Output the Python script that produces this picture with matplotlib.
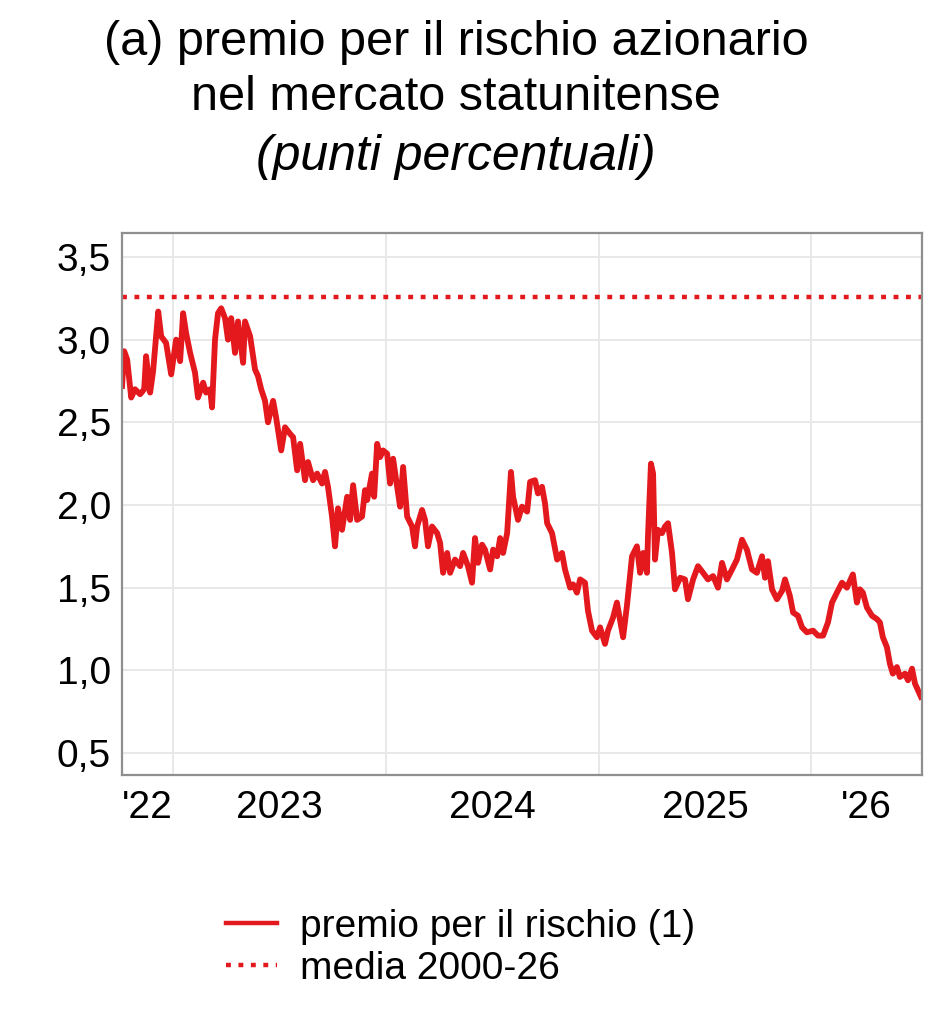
"""
Task:
    Redraw panel (a): equity risk premium in the US market, in percentage points.

Outputs:
    out.png

Notes:
(1) Dates are stored as decimal years, read off the published chart.
(2) Gridlines mark the start of each year; labels sit in the middle of each year.
"""

import matplotlib

matplotlib.use("Agg")
import matplotlib.pyplot as plt
from matplotlib.lines import Line2D


# <>#<>#<>#<>#<>#<>#<>#<>#<>#<>#<>#<>#<>#<>#<>#<>#<>#<>#<>#<>#<>#<>#<>#<>#<>#<>
# <> Step 0. Data
# <>#<>#<>#<>#<>#<>#<>#<>#<>#<>#<>#<>#<>#<>#<>#<>#<>#<>#<>#<>#<>#<>#<>#<>#<>#<>


YEAR_FRACTION = [
    2022.760, 2022.770, 2022.784, 2022.803, 2022.821, 2022.845, 2022.864, 2022.873,
    2022.892, 2022.906, 2022.930, 2022.944, 2022.967, 2022.991, 2023.014, 2023.033,
    2023.047, 2023.061, 2023.080, 2023.103, 2023.117, 2023.141, 2023.155, 2023.174,
    2023.183, 2023.197, 2023.211, 2023.226, 2023.244, 2023.258, 2023.273, 2023.291,
    2023.305, 2023.329, 2023.338, 2023.362, 2023.385, 2023.399, 2023.414, 2023.432,
    2023.446, 2023.470, 2023.484, 2023.508, 2023.526, 2023.550, 2023.564, 2023.583,
    2023.597, 2023.620, 2023.634, 2023.658, 2023.677, 2023.700, 2023.714, 2023.728,
    2023.747, 2023.761, 2023.775, 2023.794, 2023.818, 2023.832, 2023.846, 2023.865,
    2023.888, 2023.902, 2023.912, 2023.935, 2023.945, 2023.959, 2023.973, 2023.987,
    2024.006, 2024.020, 2024.034, 2024.053, 2024.067, 2024.081, 2024.100, 2024.123,
    2024.137, 2024.147, 2024.170, 2024.184, 2024.198, 2024.217, 2024.241, 2024.255,
    2024.269, 2024.288, 2024.302, 2024.325, 2024.349, 2024.363, 2024.386, 2024.405,
    2024.419, 2024.433, 2024.452, 2024.466, 2024.490, 2024.504, 2024.523, 2024.537,
    2024.551, 2024.570, 2024.588, 2024.598, 2024.621, 2024.640, 2024.664, 2024.678,
    2024.701, 2024.715, 2024.734, 2024.748, 2024.758, 2024.781, 2024.805, 2024.828,
    2024.842, 2024.866, 2024.880, 2024.898, 2024.913, 2024.936, 2024.950, 2024.969,
    2024.992, 2025.007, 2025.030, 2025.044, 2025.068, 2025.086, 2025.101, 2025.115,
    2025.133, 2025.157, 2025.180, 2025.195, 2025.209, 2025.227, 2025.232, 2025.246,
    2025.256, 2025.265, 2025.279, 2025.298, 2025.312, 2025.326, 2025.345, 2025.359,
    2025.383, 2025.406, 2025.420, 2025.444, 2025.467, 2025.491, 2025.514, 2025.538,
    2025.561, 2025.580, 2025.603, 2025.627, 2025.650, 2025.674, 2025.697, 2025.721,
    2025.744, 2025.768, 2025.782, 2025.796, 2025.815, 2025.838, 2025.862, 2025.876,
    2025.899, 2025.914, 2025.937, 2025.956, 2025.979, 2026.008, 2026.031, 2026.055,
    2026.078, 2026.097, 2026.120, 2026.144, 2026.167, 2026.181, 2026.195, 2026.214,
    2026.228, 2026.242, 2026.261, 2026.285, 2026.308, 2026.322, 2026.336, 2026.355,
    2026.369, 2026.383, 2026.402, 2026.416, 2026.440, 2026.454, 2026.473, 2026.487,
    2026.501, 2026.515,
]

RISK_PREMIUM = [
    2.72, 2.93, 2.88, 2.65, 2.70, 2.67, 2.70, 2.90,
    2.68, 2.81, 3.17, 3.02, 2.98, 2.79, 3.00, 2.87,
    3.16, 3.04, 2.92, 2.80, 2.65, 2.74, 2.68, 2.70,
    2.59, 3.00, 3.16, 3.19, 3.13, 3.00, 3.13, 2.92,
    3.11, 2.86, 3.11, 3.02, 2.82, 2.78, 2.70, 2.63,
    2.50, 2.63, 2.53, 2.33, 2.47, 2.43, 2.41, 2.21,
    2.37, 2.15, 2.26, 2.15, 2.19, 2.13, 2.20, 2.11,
    1.93, 1.75, 1.98, 1.85, 2.05, 1.91, 2.12, 1.91,
    1.93, 2.09, 2.03, 2.19, 2.05, 2.37, 2.29, 2.33,
    2.31, 2.13, 2.28, 2.11, 1.99, 2.23, 1.93, 1.87,
    1.75, 1.87, 1.97, 1.91, 1.75, 1.87, 1.83, 1.77,
    1.59, 1.71, 1.59, 1.67, 1.63, 1.71, 1.63, 1.53,
    1.80, 1.65, 1.76, 1.73, 1.61, 1.73, 1.69, 1.80,
    1.71, 1.83, 2.20, 2.05, 1.91, 1.99, 1.96, 2.14,
    2.15, 2.07, 2.11, 2.01, 1.89, 1.83, 1.67, 1.71,
    1.61, 1.50, 1.52, 1.47, 1.55, 1.53, 1.36, 1.24,
    1.20, 1.26, 1.16, 1.24, 1.32, 1.41, 1.30, 1.20,
    1.39, 1.69, 1.75, 1.59, 1.71, 1.59, 1.81, 2.25,
    2.19, 1.67, 1.85, 1.83, 1.87, 1.89, 1.71, 1.49,
    1.56, 1.55, 1.43, 1.55, 1.63, 1.59, 1.55, 1.57,
    1.50, 1.65, 1.55, 1.61, 1.67, 1.79, 1.73, 1.61,
    1.59, 1.69, 1.56, 1.66, 1.49, 1.43, 1.48, 1.55,
    1.45, 1.35, 1.33, 1.26, 1.23, 1.24, 1.21, 1.21,
    1.29, 1.41, 1.47, 1.53, 1.50, 1.54, 1.58, 1.41,
    1.49, 1.47, 1.38, 1.33, 1.31, 1.29, 1.20, 1.14,
    1.04, 0.98, 1.02, 0.96, 0.98, 0.94, 1.01, 0.92,
    0.88, 0.84,
]

MEAN_2000_26 = 3.26

YEAR_STARTS = [2023, 2024, 2025, 2026]
X_LABEL_POSITIONS = [2022.88, 2023.5, 2024.5, 2025.5, 2026.26]
X_TICK_LABELS = ["'22", "2023", "2024", "2025", "'26"]
Y_TICKS = [0.5, 1.0, 1.5, 2.0, 2.5, 3.0, 3.5]
Y_TICK_LABELS = ["0,5", "1,0", "1,5", "2,0", "2,5", "3,0", "3,5"]

TITLE_LINES = ["(a) premio per il rischio azionario", "nel mercato statunitense"]
SUBTITLE = "(punti percentuali)"
LEGEND_LABELS = ["premio per il rischio (1)", "media 2000-26"]

RED = "#e3191e"
DOTTED = (0, (1.1, 1.7))
FONT_SIZE = 28


# <>#<>#<>#<>#<>#<>#<>#<>#<>#<>#<>#<>#<>#<>#<>#<>#<>#<>#<>#<>#<>#<>#<>#<>#<>#<>
# <> Step 1. Draw
# <>#<>#<>#<>#<>#<>#<>#<>#<>#<>#<>#<>#<>#<>#<>#<>#<>#<>#<>#<>#<>#<>#<>#<>#<>#<>


plt.rcParams["font.family"] = ["Liberation Sans", "DejaVu Sans"]

figure = plt.figure(figsize=(9.52, 10.18), dpi=100)
axis = figure.add_axes([0.1282, 0.2387, 0.8403, 0.5324])

axis.plot(YEAR_FRACTION, RISK_PREMIUM, color=RED, lw=4.2, solid_joinstyle="round")
axis.axhline(MEAN_2000_26, color=RED, lw=3.2, linestyle=DOTTED, dash_capstyle="butt")

axis.set_xlim(2022.760, 2026.520)
axis.set_ylim(0.367, 3.645)

axis.set_yticks(Y_TICKS)
axis.set_yticklabels(Y_TICK_LABELS, fontsize=FONT_SIZE)
axis.set_xticks(YEAR_STARTS)
axis.set_xticklabels([])
axis.set_xticks(X_LABEL_POSITIONS, minor=True)
axis.set_xticklabels(X_TICK_LABELS, minor=True, fontsize=FONT_SIZE)
axis.tick_params(which="both", length=0)
axis.tick_params(axis="y", pad=8)
axis.tick_params(axis="x", which="minor", pad=11)

axis.grid(True, which="major", color="#e8e8e8", lw=1.4)
axis.set_axisbelow(True)
for spine in axis.spines.values():
    spine.set_color("#8f8f8f")
    spine.set_linewidth(1.6)

figure.text(0.479, 0.946, TITLE_LINES[0], ha="center", va="baseline", fontsize=35)
figure.text(0.479, 0.892, TITLE_LINES[1], ha="center", va="baseline", fontsize=35)
figure.text(0.479, 0.833, SUBTITLE, ha="center", va="baseline", fontsize=36, style="italic")

handles = [
    Line2D([], [], color=RED, lw=3.2),
    Line2D([], [], color=RED, lw=3.2, linestyle=DOTTED, dash_capstyle="butt"),
]
figure.legend(
    handles,
    LEGEND_LABELS,
    loc="center",
    bbox_to_anchor=(0.484, 0.0690),
    frameon=False,
    fontsize=FONT_SIZE,
    handlelength=1.3,
    handletextpad=0.6,
    labelspacing=0.15,
)

figure.savefig("out.png", dpi=100)
plt.close(figure)
